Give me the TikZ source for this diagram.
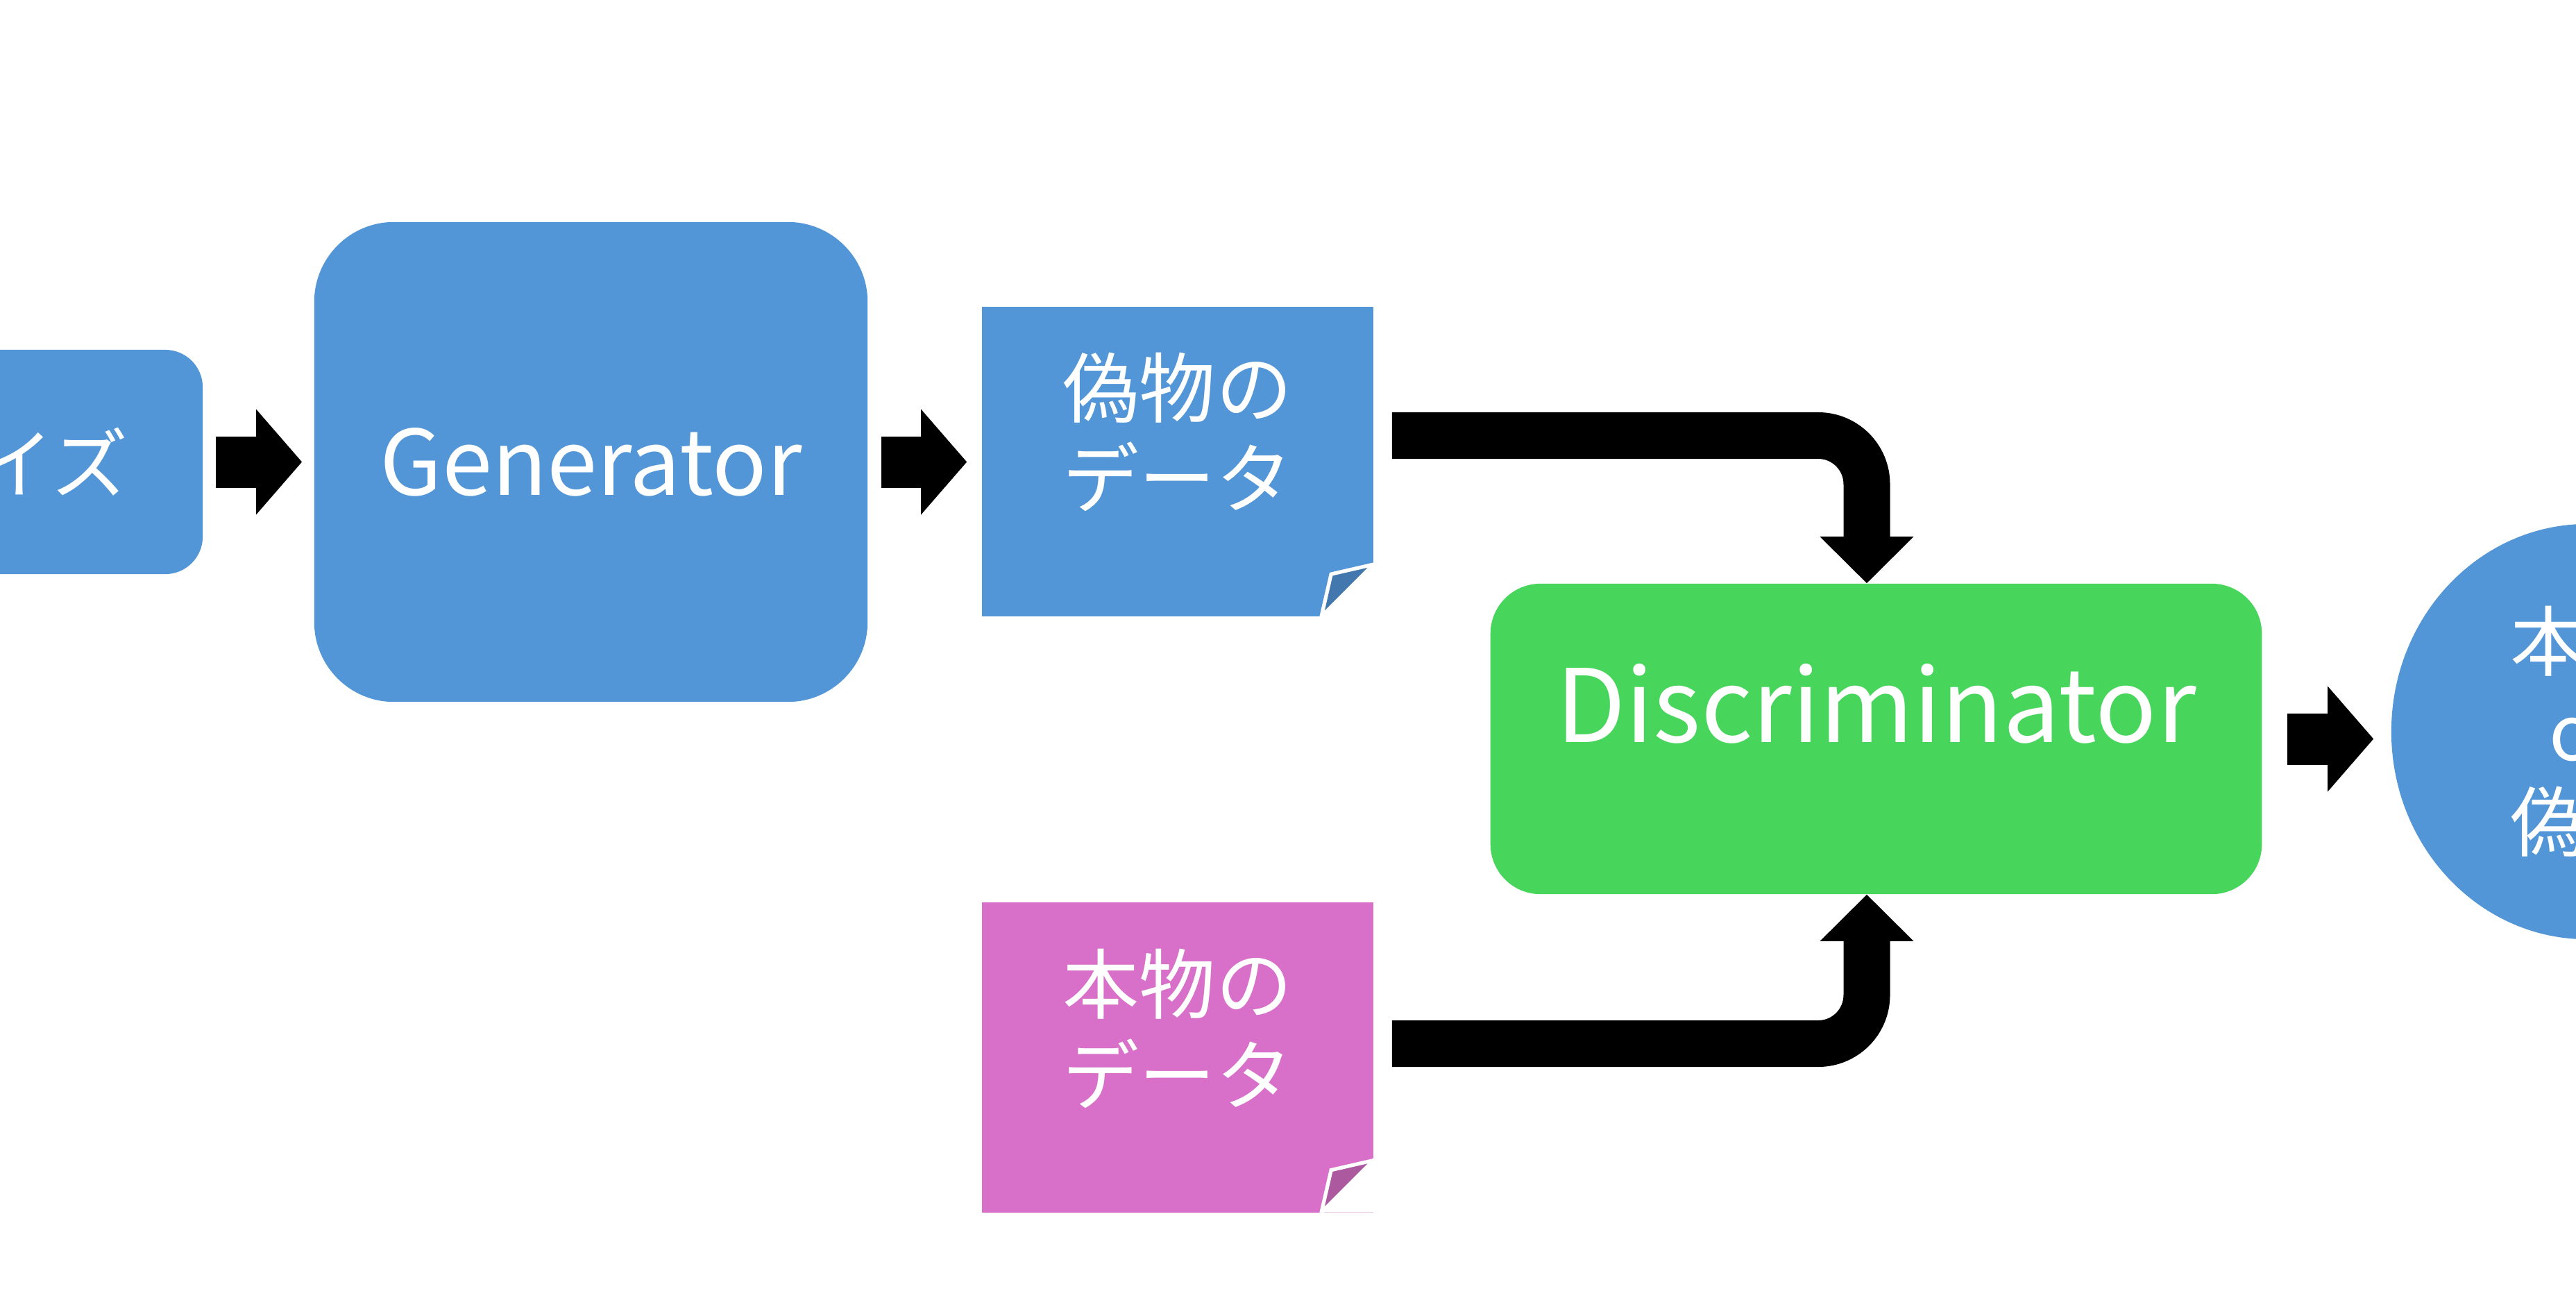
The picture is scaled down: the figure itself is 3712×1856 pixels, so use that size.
\documentclass[tikz,border=0pt]{standalone}
\usepackage{fontspec}
\setmainfont{Noto Sans CJK JP}
\usetikzlibrary{arrows.meta,calc,shapes.geometric}
\definecolor{gblue}{RGB}{82,150,216}
\definecolor{ggreen}{RGB}{72,213,92}
\definecolor{gpink}{RGB}{216,111,200}
\tikzset{
    box/.style={rectangle, fill=gblue, text=white, inner sep=0pt, align=center},
    jp/.style={font=\fontsize{31.3pt}{37pt}\selectfont, text=white,
               inner sep=0pt, align=center},
    datacard/.style={box, fill=#1, minimum width=5.64cm, minimum height=4.46cm,
        path picture={
            \fill[white] ([yshift=0.75cm]path picture bounding box.south east)
                -- (path picture bounding box.south east)
                -- ([xshift=-0.75cm]path picture bounding box.south east) -- cycle;
            \filldraw[fill=#1!80!black, draw=white, line width=1.5pt]
                ([yshift=0.75cm]path picture bounding box.south east)
                -- ([xshift=-0.61cm,yshift=0.61cm]path picture bounding box.south east)
                -- ([xshift=-0.75cm]path picture bounding box.south east) -- cycle;
        }},
    flow/.style={-{Triangle[length=0.66cm, width=1.52cm, line width=0pt]},
                 line width=0.74cm},
    bentflow/.style={-{Triangle[length=0.67cm, width=1.35cm, line width=0pt]},
                 line width=0.67cm, rounded corners=0.7cm},
}

\begin{document}
\begin{tikzpicture}[x=0.01cm, y=-0.01cm]

    \useasboundingbox (0,0) rectangle (3712,1856);
    \clip (0,0) rectangle (3712,1856);

    \node[box, jp, minimum width=5.42cm, minimum height=3.23cm,
          rounded corners=0.54cm] (noise) at (21,665.5) {ノイズ};
    \node[box, minimum width=7.97cm, minimum height=6.91cm, rounded corners=1.15cm,
          font=\fontsize{37pt}{44pt}\selectfont] (gen) at (851.5,665.5) {Generator};
    \node[datacard=gblue, label={[jp, anchor=north, yshift=-0.66cm]north:偽物の\\データ}]
        (fake) at (1697,665) {};
    \node[datacard=gpink, label={[jp, anchor=north, yshift=-0.67cm]north:本物の\\データ}]
        (real) at (1697,1523.5) {};
    \node[box, fill=ggreen, minimum width=11.11cm, minimum height=4.47cm,
          rounded corners=0.72cm,
          label={[yshift=0.51cm, text=white, inner sep=0pt,
                  font=\fontsize{41.5pt}{48pt}\selectfont]center:Discriminator}]
        (disc) at (2703.5,1064.5) {};
    \node[box, ellipse, jp, minimum width=5.64cm, minimum height=5.98cm]
        (judge) at (3728,1054) {本物\\or\\偽物};

    \draw[flow, shorten <=0.18cm, shorten >=0.17cm] (noise.east) -- (gen.west);
    \draw[flow, shorten <=0.19cm, shorten >=0.21cm] (gen.east) -- (gen.east -| fake.west);
    \draw[flow, shorten <=0.36cm, shorten >=0.25cm] (disc.east) -- (disc.east -| judge.west);
    \draw[bentflow] ([xshift=0.26cm,yshift=0.375cm]fake.east) -| ([xshift=-0.135cm]disc.north);
    \draw[bentflow] ([xshift=0.26cm,yshift=0.2cm]real.east) -| ([xshift=-0.135cm]disc.south);

\end{tikzpicture}
\end{document}
